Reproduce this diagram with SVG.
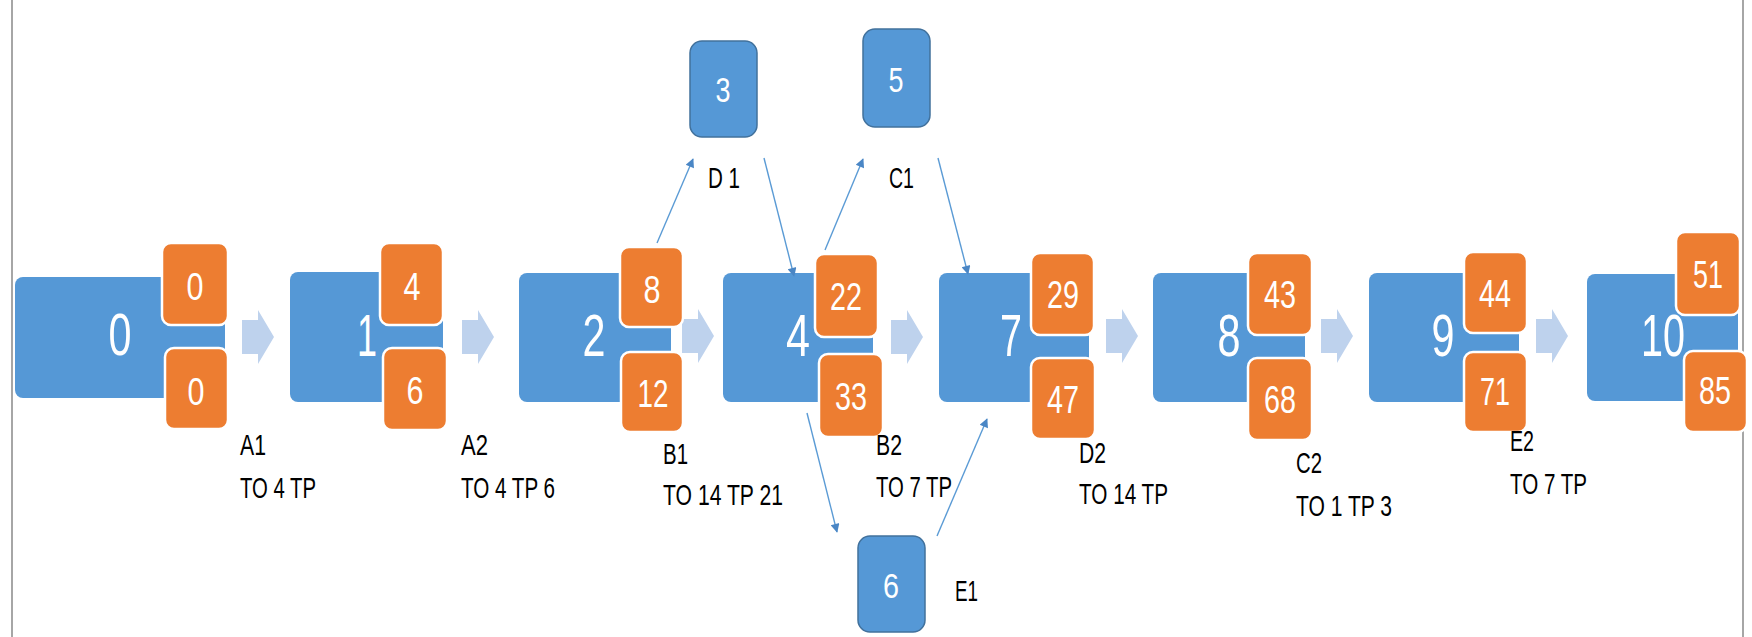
<svg xmlns="http://www.w3.org/2000/svg" width="1752" height="637" viewBox="0 0 1752 637">
<style>
  .bg{fill:#ffffff}
  .frame{stroke:#a6a6a6;stroke-width:2}
  .blue{fill:#5598d6}
  .small{fill:#5598d6;stroke:#41719c;stroke-width:1.5}
  .orange{fill:#ed7d31;stroke:#ffffff;stroke-width:2.5}
  .big{font-family:"Liberation Sans",Arial,sans-serif;font-size:59px;fill:#ffffff;text-anchor:middle}
  .num{font-family:"Liberation Sans",Arial,sans-serif;font-size:38px;fill:#ffffff;text-anchor:middle}
  .snum{font-family:"Liberation Sans",Arial,sans-serif;font-size:35px;fill:#ffffff;text-anchor:middle}
  .lbl{font-family:"Liberation Sans",Arial,sans-serif;font-size:30px;fill:#000000}
  .flow{fill:#aec7e8;opacity:0.8}
  .conn{stroke:#5b9bd5;stroke-width:1.4;fill:none;marker-end:url(#ah)}
</style>
<defs>
  <marker id="ah" viewBox="0 0 10 10" refX="9" refY="5" markerWidth="11" markerHeight="9" markerUnits="userSpaceOnUse" orient="auto">
    <path d="M0,0 L10,5 L0,10 z" fill="#4a86c5"/>
  </marker>
  <path id="blk" d="M0,-17 H16 V-27 L32,0 L16,27 V17 H0 z"/>
</defs>
<rect class="bg" x="0" y="0" width="1752" height="637"/>
<line class="frame" x1="12" y1="0" x2="12" y2="637"/>
<line class="frame" x1="1743" y1="0" x2="1743" y2="637"/>

<g id="flow-arrows">
  <use href="#blk" class="flow" x="242" y="337"/>
  <use href="#blk" class="flow" x="462" y="337"/>
  <use href="#blk" class="flow" x="682" y="336"/>
  <use href="#blk" class="flow" x="891" y="337"/>
  <use href="#blk" class="flow" x="1106" y="336"/>
  <use href="#blk" class="flow" x="1321" y="336"/>
  <use href="#blk" class="flow" x="1536" y="336"/>
</g>

<g id="node0">
  <rect class="blue" x="15" y="277" width="210" height="121" rx="8"/>
  <text class="big" x="120" y="355" textLength="23" lengthAdjust="spacingAndGlyphs">0</text>
  <rect class="orange" x="162" y="243" width="66" height="82" rx="9"/>
  <text class="num" x="195" y="300" textLength="17" lengthAdjust="spacingAndGlyphs">0</text>
  <rect class="orange" x="165" y="348" width="63" height="81" rx="9"/>
  <text class="num" x="196" y="405" textLength="17" lengthAdjust="spacingAndGlyphs">0</text>
</g>
<g id="node1">
  <rect class="blue" x="290" y="272" width="153" height="130" rx="8"/>
  <text class="big" x="367" y="356" textLength="20" lengthAdjust="spacingAndGlyphs">1</text>
  <rect class="orange" x="380" y="243" width="63" height="82" rx="9"/>
  <text class="num" x="412" y="300" textLength="17" lengthAdjust="spacingAndGlyphs">4</text>
  <rect class="orange" x="383" y="348" width="64" height="82" rx="9"/>
  <text class="num" x="415" y="404" textLength="17" lengthAdjust="spacingAndGlyphs">6</text>
</g>
<g id="node2">
  <rect class="blue" x="519" y="273" width="152" height="129" rx="8"/>
  <text class="big" x="594" y="356" textLength="23" lengthAdjust="spacingAndGlyphs">2</text>
  <rect class="orange" x="620" y="247" width="63" height="80" rx="9"/>
  <text class="num" x="652" y="303" textLength="17" lengthAdjust="spacingAndGlyphs">8</text>
  <rect class="orange" x="621" y="352" width="62" height="80" rx="9"/>
  <text class="num" x="653" y="407" textLength="31" lengthAdjust="spacingAndGlyphs">12</text>
</g>
<g id="node4">
  <rect class="blue" x="723" y="273" width="150" height="129" rx="8"/>
  <text class="big" x="798" y="356" textLength="24" lengthAdjust="spacingAndGlyphs">4</text>
  <rect class="orange" x="815" y="254" width="63" height="83" rx="9"/>
  <text class="num" x="846" y="310" textLength="32" lengthAdjust="spacingAndGlyphs">22</text>
  <rect class="orange" x="819" y="354" width="64" height="83" rx="9"/>
  <text class="num" x="851" y="410" textLength="32" lengthAdjust="spacingAndGlyphs">33</text>
</g>
<g id="node7">
  <rect class="blue" x="939" y="273" width="150" height="129" rx="8"/>
  <text class="big" x="1011" y="356" textLength="22" lengthAdjust="spacingAndGlyphs">7</text>
  <rect class="orange" x="1031" y="253" width="63" height="82" rx="9"/>
  <text class="num" x="1063" y="308" textLength="32" lengthAdjust="spacingAndGlyphs">29</text>
  <rect class="orange" x="1031" y="358" width="64" height="81" rx="9"/>
  <text class="num" x="1063" y="413" textLength="32" lengthAdjust="spacingAndGlyphs">47</text>
</g>
<g id="node8">
  <rect class="blue" x="1153" y="273" width="152" height="129" rx="8"/>
  <text class="big" x="1229" y="356" textLength="23" lengthAdjust="spacingAndGlyphs">8</text>
  <rect class="orange" x="1248" y="253" width="64" height="82" rx="9"/>
  <text class="num" x="1280" y="308" textLength="32" lengthAdjust="spacingAndGlyphs">43</text>
  <rect class="orange" x="1248" y="358" width="64" height="82" rx="9"/>
  <text class="num" x="1280" y="413" textLength="32" lengthAdjust="spacingAndGlyphs">68</text>
</g>
<g id="node9">
  <rect class="blue" x="1369" y="273" width="150" height="129" rx="8"/>
  <text class="big" x="1443" y="356" textLength="23" lengthAdjust="spacingAndGlyphs">9</text>
  <rect class="orange" x="1464" y="252" width="63" height="81" rx="9"/>
  <text class="num" x="1495" y="307" textLength="32" lengthAdjust="spacingAndGlyphs">44</text>
  <rect class="orange" x="1464" y="352" width="63" height="80" rx="9"/>
  <text class="num" x="1495" y="405" textLength="30" lengthAdjust="spacingAndGlyphs">71</text>
</g>
<g id="node10">
  <rect class="blue" x="1587" y="274" width="151" height="127" rx="8"/>
  <text class="big" x="1663" y="356" textLength="44" lengthAdjust="spacingAndGlyphs">10</text>
  <rect class="orange" x="1676" y="232" width="64" height="83" rx="9"/>
  <text class="num" x="1708" y="288" textLength="30" lengthAdjust="spacingAndGlyphs">51</text>
  <rect class="orange" x="1684" y="351" width="63" height="81" rx="9"/>
  <text class="num" x="1715" y="404" textLength="32" lengthAdjust="spacingAndGlyphs">85</text>
</g>
<g id="node3">
  <rect class="small" x="690" y="41" width="67" height="96" rx="12"/>
  <text class="snum" x="723" y="102" textLength="15" lengthAdjust="spacingAndGlyphs">3</text>
</g>
<g id="node5">
  <rect class="small" x="863" y="29" width="67" height="98" rx="12"/>
  <text class="snum" x="896" y="92" textLength="15" lengthAdjust="spacingAndGlyphs">5</text>
</g>
<g id="node6">
  <rect class="small" x="858" y="536" width="67" height="96" rx="12"/>
  <text class="snum" x="891" y="598" textLength="16" lengthAdjust="spacingAndGlyphs">6</text>
</g>

<g id="connectors">
  <line class="conn" x1="657" y1="243" x2="693" y2="159"/>
  <line class="conn" x1="764" y1="158" x2="794" y2="276"/>
  <line class="conn" x1="825" y1="250" x2="863" y2="159"/>
  <line class="conn" x1="938" y1="158" x2="968" y2="274"/>
  <line class="conn" x1="807" y1="413" x2="837" y2="532"/>
  <line class="conn" x1="937" y1="536" x2="987" y2="419"/>
</g>

<g id="labels">
  <text class="lbl" x="240" y="455" textLength="26" lengthAdjust="spacingAndGlyphs">A1</text>
  <text class="lbl" x="240" y="498" textLength="76" lengthAdjust="spacingAndGlyphs">TO 4 TP</text>
  <text class="lbl" x="461" y="455" textLength="27" lengthAdjust="spacingAndGlyphs">A2</text>
  <text class="lbl" x="461" y="498" textLength="94" lengthAdjust="spacingAndGlyphs">TO 4 TP 6</text>
  <text class="lbl" x="663" y="464" textLength="25" lengthAdjust="spacingAndGlyphs">B1</text>
  <text class="lbl" x="663" y="505" textLength="120" lengthAdjust="spacingAndGlyphs">TO 14 TP 21</text>
  <text class="lbl" x="876" y="455" textLength="26" lengthAdjust="spacingAndGlyphs">B2</text>
  <text class="lbl" x="876" y="497" textLength="76" lengthAdjust="spacingAndGlyphs">TO 7 TP</text>
  <text class="lbl" x="1079" y="463" textLength="27" lengthAdjust="spacingAndGlyphs">D2</text>
  <text class="lbl" x="1079" y="504" textLength="89" lengthAdjust="spacingAndGlyphs">TO 14 TP</text>
  <text class="lbl" x="1296" y="473" textLength="26" lengthAdjust="spacingAndGlyphs">C2</text>
  <text class="lbl" x="1296" y="516" textLength="96" lengthAdjust="spacingAndGlyphs">TO 1 TP 3</text>
  <text class="lbl" x="1510" y="451" textLength="24" lengthAdjust="spacingAndGlyphs">E2</text>
  <text class="lbl" x="1510" y="494" textLength="77" lengthAdjust="spacingAndGlyphs">TO 7 TP</text>
  <text class="lbl" x="708" y="188" textLength="32" lengthAdjust="spacingAndGlyphs">D 1</text>
  <text class="lbl" x="889" y="188" textLength="25" lengthAdjust="spacingAndGlyphs">C1</text>
  <text class="lbl" x="955" y="601" textLength="23" lengthAdjust="spacingAndGlyphs">E1</text>
</g>
</svg>
